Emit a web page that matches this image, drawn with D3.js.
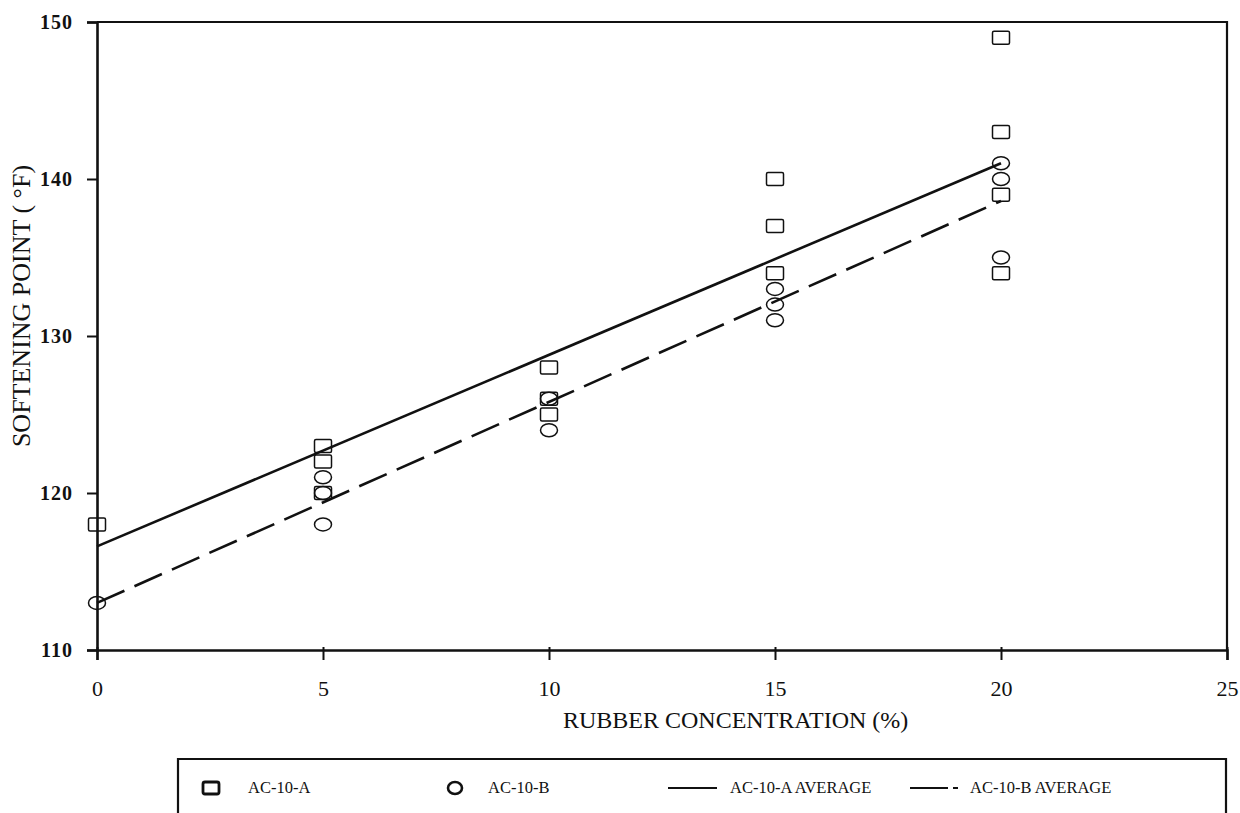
<!DOCTYPE html>
<html>
<head>
<meta charset="utf-8">
<script src="https://cdn.jsdelivr.net/npm/d3@7"></script>
<style>
  html, body { margin: 0; padding: 0; background: #fff; }
  svg { display: block; }
  text { font-family: "Liberation Serif", "Times New Roman", serif; fill: #111; }
</style>
</head>
<body>
<svg id="chart" width="1240" height="813"></svg>
<script>
// Softening point of rubber-modified binders
const concA = [0, 5, 5, 5, 10, 10, 10, 15, 15, 15, 20, 20, 20, 20];
const softA = [118, 123, 122, 120, 128, 126, 125, 140, 137, 134, 149, 143, 139, 134];
const concB = [0, 5, 5, 5, 10, 10, 15, 15, 15, 20, 20, 20];
const softB = [113, 121, 120, 118, 126, 124, 133, 132, 131, 141, 140, 135];
// Fitted average lines (end points at 0 % and 20 % rubber)
const avgConc = [0, 20];
const avgA = [116.6, 141.0];
const avgB = [113.0, 138.6];
const xTicks = [0, 5, 10, 15, 20, 25];
const yTicks = [110, 120, 130, 140, 150];
const legendLabels = ["AC-10-A", "AC-10-B", "AC-10-A AVERAGE", "AC-10-B AVERAGE"];

const svg = d3.select("#chart");
const m = { left: 97, right: 1227, top: 22, bottom: 650 };
const x = d3.scaleLinear().domain([0, 25]).range([m.left, m.right]);
const y = d3.scaleLinear().domain([110, 150]).range([m.bottom, m.top]);

// Frame: top and right borders
svg.append("path")
  .attr("d", `M${m.left},${m.top}H${m.right}V${m.bottom}`)
  .attr("fill", "none").attr("stroke", "#111").attr("stroke-width", 2.2);

// Left axis
const yAxis = svg.append("g")
  .attr("transform", `translate(${m.left},0)`)
  .call(d3.axisLeft(y).tickValues(yTicks).tickSize(10).tickPadding(14));
yAxis.select(".domain").attr("stroke", "#111").attr("stroke-width", 2.6);
yAxis.selectAll(".tick line").attr("stroke", "#111").attr("stroke-width", 2);
yAxis.selectAll(".tick text")
  .style("font-family", "'Liberation Serif', serif")
  .style("font-size", "20px").style("font-weight", "bold")
  .style("letter-spacing", "1px").attr("fill", "#111");

// Bottom axis
const xAxis = svg.append("g")
  .attr("transform", `translate(0,${m.bottom})`)
  .call(d3.axisBottom(x).tickValues(xTicks).tickSize(10).tickPadding(20));
xAxis.select(".domain").attr("stroke", "#111").attr("stroke-width", 2.4);
xAxis.selectAll(".tick line").attr("stroke", "#111").attr("stroke-width", 2)
  .attr("y1", -3);
xAxis.selectAll(".tick text")
  .style("font-family", "'Liberation Serif', serif")
  .style("font-size", "22px").attr("fill", "#111");

// Axis titles
svg.append("text")
  .attr("x", 563).attr("y", 728)
  .style("font-size", "24px")
  .text("RUBBER CONCENTRATION (%)");
svg.append("text")
  .attr("transform", "translate(30,306) rotate(-90)")
  .attr("text-anchor", "middle")
  .style("font-size", "26px")
  .text("SOFTENING POINT ( °F)");

// Average lines
const line = d3.line().x(d => x(d[0])).y(d => y(d[1]));
svg.append("path")
  .datum(avgConc.map((c, i) => [c, avgA[i]]))
  .attr("d", line).attr("fill", "none")
  .attr("stroke", "#111").attr("stroke-width", 2.6);
svg.append("path")
  .datum(avgConc.map((c, i) => [c, avgB[i]]))
  .attr("d", line).attr("fill", "none")
  .attr("stroke", "#111").attr("stroke-width", 2.6)
  .attr("stroke-dasharray", "30,11");

// AC-10-A points (squares)
svg.append("g").selectAll("rect")
  .data(concA.map((c, i) => [c, softA[i]]))
  .join("rect")
  .attr("x", d => x(d[0]) - 8.5).attr("y", d => y(d[1]) - 6.5)
  .attr("width", 17).attr("height", 13).attr("rx", 1.5)
  .attr("fill", "none").attr("stroke", "#111").attr("stroke-width", 1.5);

// AC-10-B points (circles)
svg.append("g").selectAll("ellipse")
  .data(concB.map((c, i) => [c, softB[i]]))
  .join("ellipse")
  .attr("cx", d => x(d[0])).attr("cy", d => y(d[1]))
  .attr("rx", 8.5).attr("ry", 6.5)
  .attr("fill", "none").attr("stroke", "#111").attr("stroke-width", 1.5);

// Legend box (runs past the bottom edge)
const lg = svg.append("g");
lg.append("path")
  .attr("d", "M178,830V759H1226V830")
  .attr("fill", "none").attr("stroke", "#111").attr("stroke-width", 2.2);
const ly = 788;
lg.append("rect").attr("x", 203).attr("y", ly - 6).attr("width", 16).attr("height", 12).attr("rx", 2)
  .attr("fill", "none").attr("stroke", "#111").attr("stroke-width", 2.8);
lg.append("ellipse").attr("cx", 455).attr("cy", ly).attr("rx", 7).attr("ry", 6)
  .attr("fill", "none").attr("stroke", "#111").attr("stroke-width", 2.6);
lg.append("line").attr("x1", 668).attr("x2", 717).attr("y1", ly).attr("y2", ly)
  .attr("stroke", "#111").attr("stroke-width", 2.2);
lg.append("line").attr("x1", 910).attr("x2", 958).attr("y1", ly).attr("y2", ly)
  .attr("stroke", "#111").attr("stroke-width", 2.2).attr("stroke-dasharray", "38,5,5,20");
const lx = [248, 488, 730, 970];
lg.selectAll("text.leg").data(legendLabels).join("text")
  .attr("class", "leg")
  .attr("x", (d, i) => lx[i]).attr("y", ly + 5)
  .style("font-size", "16.5px")
  .text(d => d);
</script>
</body>
</html>
